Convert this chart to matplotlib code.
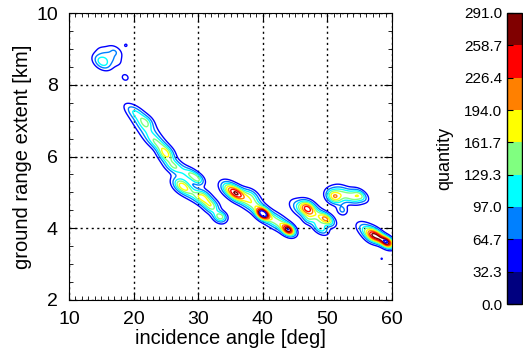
import numpy as np
import matplotlib.pyplot as plt
from matplotlib.colors import ListedColormap, BoundaryNorm
from matplotlib.ticker import MultipleLocator
import matplotlib as mpl

plt.rcParams['font.family'] = ['Liberation Sans', 'DejaVu Sans']

# colour levels of the quantity
levels = [0.0, 32.3, 64.7, 97.0, 129.3, 161.7, 194.0, 226.4, 258.7, 291.0]
level_colors = ['#000080', '#0000ff', '#0080ff', '#00ffff', '#80ff80',
                '#ffff00', '#ff8000', '#ff0000', '#800000']

# clusters: centre (deg, km), peak count, size along / across streak (px)
blob_x = [15.1, 16.3, 17.2, 18.7, 18.8,
          20.2, 21.2, 22.3, 23.2, 24.0, 25.0, 26.0, 27.5, 29.0, 30.0, 22.0,
          27.4, 28.8, 30.7, 32.0, 33.2, 33.8,
          34.8, 36.0, 37.5, 39.0, 40.0, 41.5, 43.0, 44.0, 38.3,
          45.8, 46.9, 48.3, 49.9, 48.9, 47.0,
          51.0, 52.5, 54.0, 55.0, 52.3,
          56.0, 57.1, 58.2, 59.3, 58.4]
blob_y = [8.63, 8.8, 8.95, 8.2, 9.1,
          7.25, 7.0, 6.7, 6.45, 6.3, 6.07, 5.75, 5.6, 5.5, 5.35, 6.95,
          5.2, 5.0, 4.87, 4.62, 4.3, 4.35,
          5.1, 4.95, 4.8, 4.6, 4.4, 4.25, 4.1, 3.95, 4.95,
          4.55, 4.58, 4.35, 4.25, 4.0, 4.25,
          4.88, 4.95, 4.85, 4.92, 4.5,
          3.95, 3.8, 3.72, 3.6, 3.15]
blob_peak = [110, 60, 45, 45, 38,
             75, 60, 58, 62, 70, 140, 100, 60, 90, 100, 55,
             140, 90, 140, 140, 110, 60,
             150, 160, 110, 90, 262, 110, 80, 245, 60,
             80, 160, 100, 160, 110, 60,
             170, 110, 80, 130, 70,
             90, 170, 130, 235, 36]
blob_len = [7, 11, 6, 3.5, 2,
            9, 10, 10, 9, 8, 6, 7, 9, 6, 5, 5,
            7, 9, 6, 6, 5, 4,
            7, 6, 8, 8, 5, 8, 7, 5, 6,
            9, 6, 9, 6, 6, 4,
            6, 8, 6, 6, 4,
            8, 6, 6, 5, 1.5]
blob_wid = [4.5, 5, 3.5, 3, 2,
            4, 5, 5, 4.5, 4, 4.5, 4.5, 4.5, 3.5, 3.5, 4,
            4.5, 4.5, 4.5, 4.5, 3.5, 3,
            4.5, 4.5, 5, 5, 3.5, 5, 4.5, 3.5, 3.5,
            5, 4.5, 5, 3.5, 3.5, 3.5,
            4.5, 5, 3.5, 3.5, 3.5,
            4.5, 4.5, 3.5, 3.5, 1.5]

# grid in axis-pixel units so blobs are elongated along the streaks
xg = np.linspace(10, 60, 401)
yg = np.linspace(2, 10, 401)
X, Y = np.meshgrid(xg, yg)
U = (X - 10) / 50 * 323
V = (Y - 2) / 8 * 287
ang = np.deg2rad(-35)
Z = np.zeros_like(X)
for bx, by, bp, bl, bw in zip(blob_x, blob_y, blob_peak, blob_len, blob_wid):
    du = U - (bx - 10) / 50 * 323
    dv = V - (by - 2) / 8 * 287
    a = du * np.cos(ang) + dv * np.sin(ang)
    b = -du * np.sin(ang) + dv * np.cos(ang)
    Z += bp * np.exp(-0.5 * ((a / bl) ** 2 + (b / bw) ** 2))

cmap = ListedColormap(level_colors)
norm = BoundaryNorm(levels, cmap.N)

fig = plt.figure(figsize=(5.23, 3.54), dpi=100)
ax = fig.add_axes([69 / 523, 1 - 300 / 354, 323 / 523, 287 / 354])
ax.contour(X, Y, Z, levels=levels[1:], colors=level_colors[1:], linewidths=1.0)

ax.set_xlim(10, 60)
ax.set_ylim(2, 10)
ax.xaxis.set_major_locator(MultipleLocator(10))
ax.xaxis.set_minor_locator(MultipleLocator(1))
ax.yaxis.set_major_locator(MultipleLocator(2))
ax.yaxis.set_minor_locator(MultipleLocator(0.5))
ax.tick_params(which='both', direction='in', top=True, right=True, labelsize=14)
ax.tick_params(axis='x', which='major', pad=8)
ax.tick_params(axis='y', which='major', pad=8)
ax.tick_params(which='major', length=6)
ax.tick_params(which='minor', length=3)
ax.grid(True, which='major', color='black', linestyle=(0, (1.5, 2.5)), linewidth=1)
ax.set_xlabel('incidence angle [deg]', fontsize=14.5, labelpad=1)
ax.set_ylabel('ground range extent [km]', fontsize=14.5, labelpad=3)

cax = fig.add_axes([507 / 523, 1 - 304 / 354, 15 / 523, 291 / 354])
cb = mpl.colorbar.ColorbarBase(cax, cmap=cmap, norm=norm, boundaries=levels,
                               ticks=levels, spacing='uniform')
cb.ax.yaxis.set_ticks_position('left')
cb.ax.yaxis.set_label_position('left')
cb.ax.set_yticklabels(['%.1f' % v for v in levels])
cb.ax.tick_params(labelsize=11, direction='in', length=4)
cb.set_label('quantity', fontsize=13, labelpad=8)
cb.outline.set_linewidth(1)

fig.savefig('out.png', dpi=100)
